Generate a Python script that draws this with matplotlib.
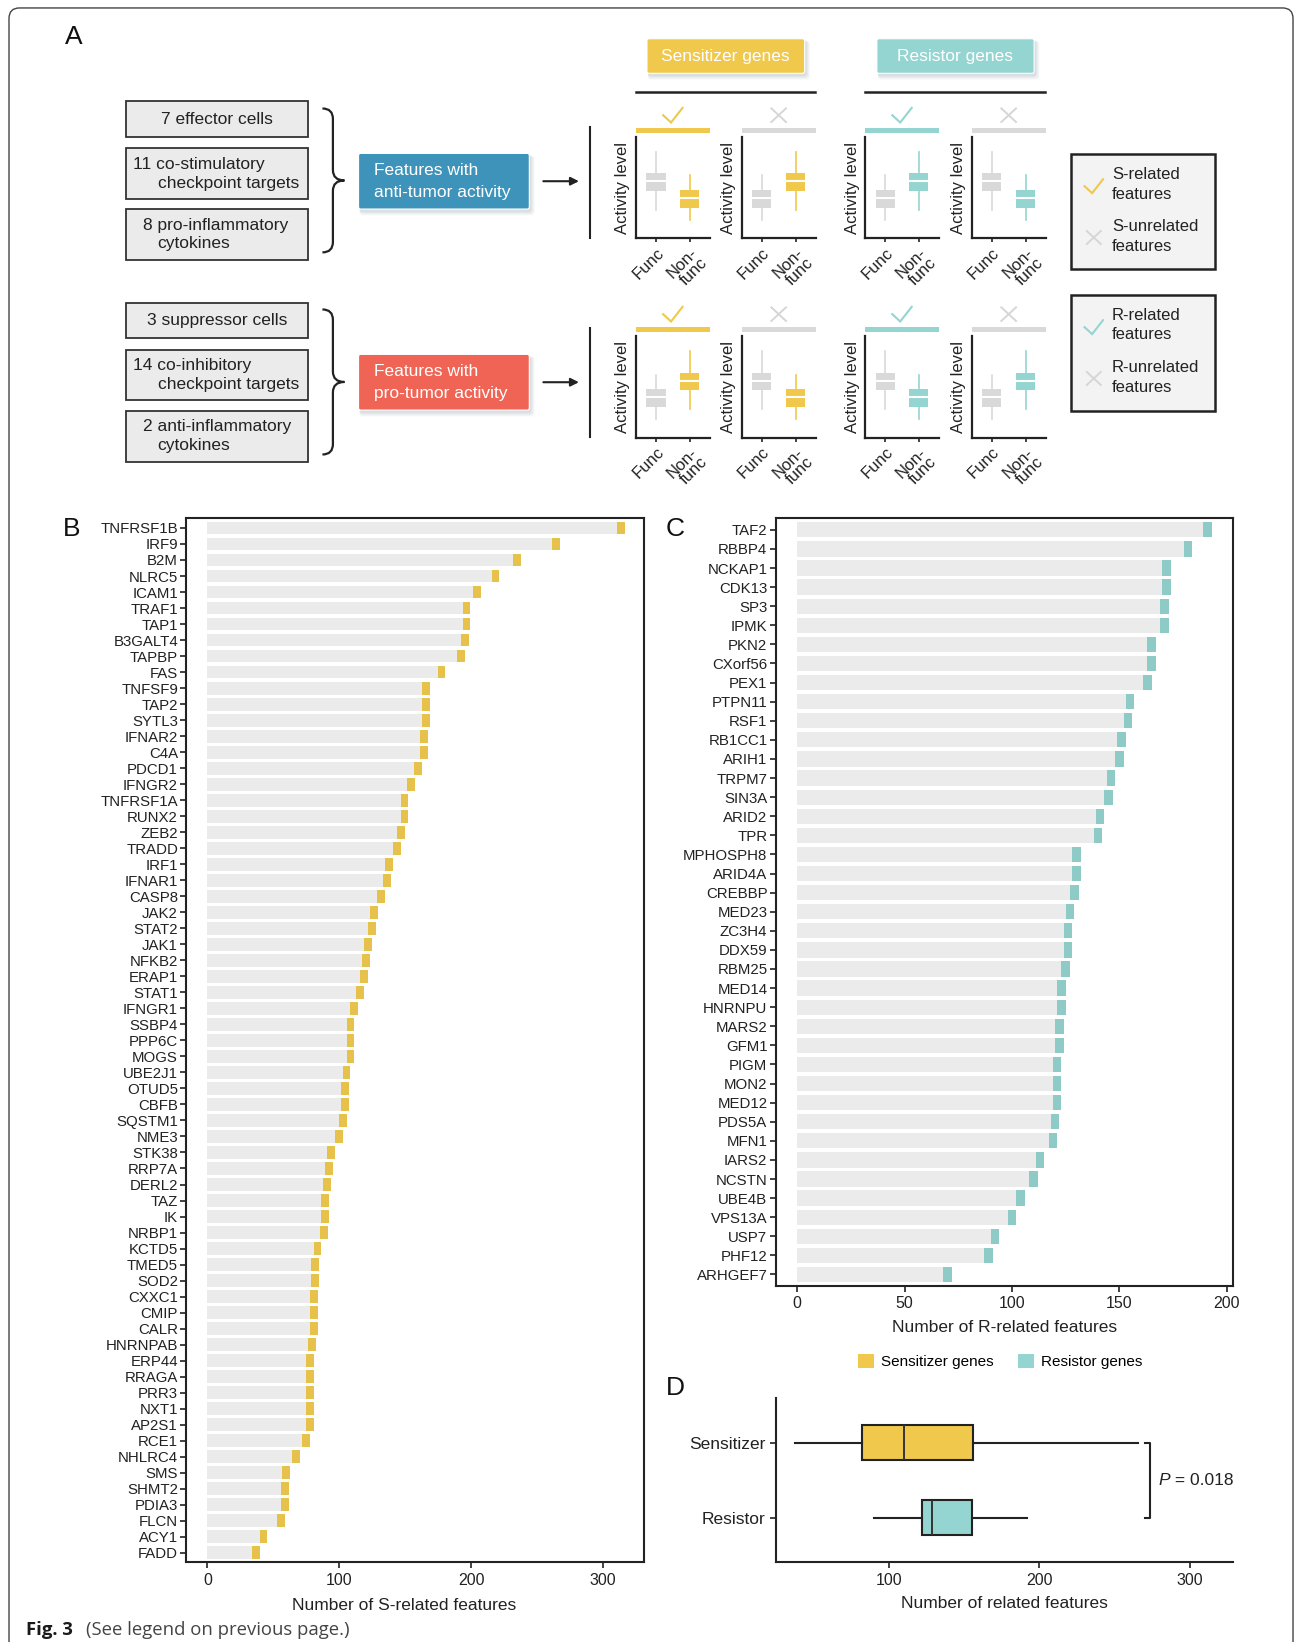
import numpy as np
import matplotlib
matplotlib.use('Agg')
import matplotlib.pyplot as plt
from matplotlib.patches import Rectangle, FancyBboxPatch, PathPatch, Patch
from matplotlib.path import Path

plt.rcParams['font.family'] = ['Liberation Sans', 'DejaVu Sans']

# ------------------------------------------------------------------ data
s_genes = ['TNFRSF1B', 'IRF9', 'B2M', 'NLRC5', 'ICAM1', 'TRAF1', 'TAP1', 'B3GALT4', 'TAPBP', 'FAS',
           'TNFSF9', 'TAP2', 'SYTL3', 'IFNAR2', 'C4A', 'PDCD1', 'IFNGR2', 'TNFRSF1A', 'RUNX2', 'ZEB2',
           'TRADD', 'IRF1', 'IFNAR1', 'CASP8', 'JAK2', 'STAT2', 'JAK1', 'NFKB2', 'ERAP1', 'STAT1',
           'IFNGR1', 'SSBP4', 'PPP6C', 'MOGS', 'UBE2J1', 'OTUD5', 'CBFB', 'SQSTM1', 'NME3', 'STK38',
           'RRP7A', 'DERL2', 'TAZ', 'IK', 'NRBP1', 'KCTD5', 'TMED5', 'SOD2', 'CXXC1', 'CMIP',
           'CALR', 'HNRNPAB', 'ERP44', 'RRAGA', 'PRR3', 'NXT1', 'AP2S1', 'RCE1', 'NHLRC4', 'SMS',
           'SHMT2', 'PDIA3', 'FLCN', 'ACY1', 'FADD']
s_counts = [315, 266, 236, 220, 206, 198, 198, 197, 194, 179,
            167, 167, 167, 166, 166, 161, 156, 151, 151, 148,
            145, 139, 138, 133, 128, 126, 123, 122, 120, 117,
            113, 110, 110, 110, 107, 106, 106, 104, 101, 95,
            94, 92, 91, 91, 90, 85, 83, 83, 82, 82,
            82, 81, 79, 79, 79, 79, 79, 76, 69, 61,
            60, 60, 57, 44, 38]

r_genes = ['TAF2', 'RBBP4', 'NCKAP1', 'CDK13', 'SP3', 'IPMK', 'PKN2', 'CXorf56', 'PEX1', 'PTPN11',
           'RSF1', 'RB1CC1', 'ARIH1', 'TRPM7', 'SIN3A', 'ARID2', 'TPR', 'MPHOSPH8', 'ARID4A', 'CREBBP',
           'MED23', 'ZC3H4', 'DDX59', 'RBM25', 'MED14', 'HNRNPU', 'MARS2', 'GFM1', 'PIGM', 'MON2',
           'MED12', 'PDS5A', 'MFN1', 'IARS2', 'NCSTN', 'UBE4B', 'VPS13A', 'USP7', 'PHF12', 'ARHGEF7']
r_counts = [192, 183, 173, 173, 172, 172, 166, 166, 164, 156,
            155, 152, 151, 147, 146, 142, 141, 131, 131, 130,
            128, 127, 127, 126, 124, 124, 123, 123, 122, 122,
            122, 121, 120, 114, 111, 105, 101, 93, 90, 71]

b_ticks = [0, 100, 200, 300]
c_ticks = [0, 50, 100, 150, 200]
d_ticks = [100, 200, 300]
group_labels = ['Sensitizer', 'Resistor']
legend_labels = ['Sensitizer genes', 'Resistor genes']
p_value = '0.018'

# panel A (schematic)
anti_items = [['7 effector cells'], ['11 co-stimulatory', 'checkpoint targets'], ['8 pro-inflammatory', 'cytokines']]
pro_items = [['3 suppressor cells'], ['14 co-inhibitory', 'checkpoint targets'], ['2 anti-inflammatory', 'cytokines']]
feature_titles = [['Features with', 'anti-tumor activity'], ['Features with', 'pro-tumor activity']]
gene_headers = ['Sensitizer genes', 'Resistor genes']
schem_high = [0.28, 0.47, 0.56, 0.64, 0.85]   # whislo, q1, med, q3, whishi
schem_low = [0.18, 0.30, 0.40, 0.475, 0.62]
schem_cats = ['Func', 'Non-\nfunc']
# per row, per column: (Func level, Non-func level)
schem_levels = [[('H', 'L'), ('L', 'H'), ('L', 'H'), ('H', 'L')],
                [('L', 'H'), ('H', 'L'), ('H', 'L'), ('L', 'H')]]
legend_s = [['S-related', 'features'], ['S-unrelated', 'features']]
legend_r = [['R-related', 'features'], ['R-unrelated', 'features']]

# ------------------------------------------------------------------ style
YEL = '#f0c84b'
TEAL = '#94d5d1'
TIPY = '#e6c14c'
TIPT = '#8ecbc6'
GRAYBAR = '#ebebeb'
LGRAY = '#d9d9d9'
DARK = '#222222'
BLUE = '#3d93b9'
RED = '#ef6454'

W, H = 1237.0, 1568.0
fig = plt.figure(figsize=(12.95, 16.42), dpi=100)
fig.patch.set_facecolor('white')


def rect(x0, y0, x1, y1):
    return [x0 / W, 1 - y1 / H, (x1 - x0) / W, (y1 - y0) / H]


ov = fig.add_axes([0, 0, 1, 1])
ov.set_xlim(0, W)
ov.set_ylim(H, 0)
ov.axis('off')

# outer border (open at the bottom)
ov.add_patch(FancyBboxPatch((8.6, 7.6), 1226.5, 1700, boxstyle='round,pad=0,rounding_size=10',
                            fc='none', ec='#444444', lw=1.0))

TXT = 12.5
# panel letters
for lab, (x, y) in zip('ABCD', [(70, 35), (68, 505), (645, 505), (645, 1325)]):
    ov.text(x, y, lab, fontsize=19, ha='center', va='center', color='#111111')


def shadow_box(x0, y0, x1, y1, color, ax):
    for i, a in enumerate([0.05, 0.05, 0.06, 0.07]):
        d = 4 - i
        ax.add_patch(FancyBboxPatch((x0 + 1, y0 + 2), (x1 - x0) + d, (y1 - y0) + d,
                                    boxstyle='round,pad=0,rounding_size=3', fc='#607080',
                                    ec='none', alpha=a))
    ax.add_patch(FancyBboxPatch((x0, y0), x1 - x0, y1 - y0, boxstyle='round,pad=0,rounding_size=2',
                                fc=color, ec='white', lw=0.8))


# left item boxes
box_rows = [[(96.8, 131), (141.7, 190), (200, 248)], [(289, 323), (334, 382), (392, 441)]]
for items, rows in zip([anti_items, pro_items], box_rows):
    for lines, (y0, y1) in zip(items, rows):
        ov.add_patch(Rectangle((120.8, y0), 173, y1 - y0, fc='#ebebeb', ec='#333333', lw=1.3))
        yc = (y0 + y1) / 2
        if len(lines) == 1:
            ov.text(207.3, yc, lines[0], fontsize=TXT, ha='center', va='center', color=DARK)
        else:
            x1st = 126.7 if lines[0][:2].isdigit() else 136.6
            ov.text(x1st, yc - 9, lines[0], fontsize=TXT, ha='left', va='center', color=DARK)
            ov.text(150.5, yc + 9, lines[1], fontsize=TXT, ha='left', va='center', color=DARK)


def brace(ax, xl, xm, xr, yt, yb, r=10):
    ym = (yt + yb) / 2
    verts = [(xl, yt), (xm, yt), (xm, yt + r), (xm, ym - r), (xm, ym), (xr, ym),
             (xm, ym), (xm, ym + r), (xm, yb - r), (xm, yb), (xl, yb)]
    codes = [Path.MOVETO, Path.CURVE3, Path.CURVE3, Path.LINETO, Path.CURVE3, Path.CURVE3,
             Path.CURVE3, Path.CURVE3, Path.LINETO, Path.CURVE3, Path.CURVE3]
    ax.add_patch(PathPatch(Path(verts, codes), fc='none', ec=DARK, lw=1.6))


brace(ov, 308, 318, 329, 103.6, 241)
brace(ov, 308, 318, 329, 295.5, 434)

# feature boxes
for (y0, y1), col, lines in zip([(146.5, 199.6), (338.4, 391.6)], [BLUE, RED], feature_titles):
    shadow_box(342.5, y0, 505.6, y1, col, ov)
    yc = (y0 + y1) / 2
    ov.text(357.5, yc - 10.5, lines[0], fontsize=TXT, color='white', ha='left', va='center')
    ov.text(357.5, yc + 10.5, lines[1], fontsize=TXT, color='white', ha='left', va='center')
    ov.annotate('', xy=(553, yc), xytext=(519, yc),
                arrowprops=dict(arrowstyle='-|>', color=DARK, lw=1.5, mutation_scale=12,
                                shrinkA=0, shrinkB=0))

ov.plot([564, 564], [121.3, 227], color=DARK, lw=1.5)
ov.plot([564, 564], [313, 417], color=DARK, lw=1.5)

# gene header boxes
for (x0, x1), col, lab in zip([(618, 768.6), (837.6, 987.8)], [YEL, TEAL], gene_headers):
    shadow_box(x0, 37, x1, 70, col, ov)
    ov.text((x0 + x1) / 2, 53.5, lab, fontsize=TXT, color='white', ha='center', va='center')
ov.plot([607.4, 778.7], [87.9, 87.9], color=DARK, lw=1.8)
ov.plot([826.6, 998], [87.9, 87.9], color=DARK, lw=1.8)


def check(ax, cx, cy, color, s=1.0):
    ax.plot([cx - 9.3 * s, cx - 1.7 * s, cx + 9.3 * s], [cy, cy + 7 * s, cy - 7 * s],
            color=color, lw=1.5, solid_joinstyle='miter')


def cross(ax, cx, cy, color, s=1.0):
    ax.plot([cx - 7 * s, cx + 7 * s], [cy - 6.5 * s, cy + 6.5 * s], color=color, lw=1.4)
    ax.plot([cx - 7 * s, cx + 7 * s], [cy + 6.5 * s, cy - 6.5 * s], color=color, lw=1.4)


cols_x = [(607.4, 678), (708.4, 779.2), (826.4, 896.8), (928, 999)]
col_bar = [YEL, LGRAY, TEAL, LGRAY]
col_box = [YEL, YEL, TEAL, TEAL]
col_mark = ['check', 'cross', 'check', 'cross']
row_y = [(130.5, 227.6, 110, 122), (321, 418, 300, 312.6)]
stats_map = {'H': schem_high, 'L': schem_low}

for r, (ya, yb, ymark, ybar) in enumerate(row_y):
    for c, (xa, xb) in enumerate(cols_x):
        ov.add_patch(Rectangle((xa, ybar), xb - xa, 4.7, fc=col_bar[c], ec='none'))
        cx = (xa + xb) / 2
        if col_mark[c] == 'check':
            check(ov, cx, ymark, col_bar[c])
        else:
            cross(ov, cx, ymark, '#d6d6d6')
        ax = fig.add_axes(rect(xa, ya, xb, yb))
        ax.set_facecolor('none')
        stats = []
        for lev, lab in zip(schem_levels[r][c], schem_cats):
            v = stats_map[lev]
            stats.append(dict(whislo=v[0], q1=v[1], med=v[2], q3=v[3], whishi=v[4], fliers=[], label=lab))
        bp = ax.bxp(stats, positions=[1, 2], widths=0.57, patch_artist=True, showcaps=False,
                    showfliers=False)
        colors = [LGRAY, col_box[c]]
        for i, b in enumerate(bp['boxes']):
            b.set_facecolor(colors[i])
            b.set_edgecolor('none')
        for i, w in enumerate(bp['whiskers']):
            w.set_color(colors[i // 2])
            w.set_linewidth(1.2)
        for m in bp['medians']:
            m.set_color('white')
            m.set_linewidth(1.5)
        ax.set_xlim(0.4, 2.6)
        ax.set_ylim(0, 1)
        ax.set_yticks([])
        ax.set_xticks([1, 2])
        ax.set_xticklabels(schem_cats, rotation=45, ha='right', va='top', rotation_mode='anchor',
                           fontsize=12, linespacing=0.9)
        ax.tick_params(axis='x', length=3, width=1.2, color=DARK, pad=2, labelcolor=DARK)
        for sp in ['top', 'right']:
            ax.spines[sp].set_visible(False)
        for sp in ['left', 'bottom']:
            ax.spines[sp].set_linewidth(1.6)
            ax.spines[sp].set_color(DARK)
        ax.set_ylabel('Activity level', fontsize=12, labelpad=4, color=DARK)

# legends of panel A
for (y0, y1), items, colr in zip([(146.8, 257.2), (281.4, 392.2)], [legend_s, legend_r], [YEL, TEAL]):
    ov.add_patch(Rectangle((1022.6, y0), 138, y1 - y0, fc='#f3f3f3', ec=DARK, lw=1.8))
    check(ov, 1044.8, y0 + 31, colr, s=0.95)
    cross(ov, 1044.8, y0 + 80, '#d6d6d6', s=0.95)
    ov.text(1062, y0 + 19.5, items[0][0], fontsize=12, ha='left', va='center', color=DARK)
    ov.text(1062, y0 + 38.5, items[0][1], fontsize=12, ha='left', va='center', color=DARK)
    ov.text(1062, y0 + 69.5, items[1][0], fontsize=12, ha='left', va='center', color=DARK)
    ov.text(1062, y0 + 88.5, items[1][1], fontsize=12, ha='left', va='center', color=DARK)


# ------------------------------------------------------------------ bar panels
def style_axes(ax, all_spines=True):
    for sp in ax.spines.values():
        sp.set_linewidth(1.5)
        sp.set_color(DARK)
    if not all_spines:
        ax.spines['top'].set_visible(False)
        ax.spines['right'].set_visible(False)
    ax.tick_params(length=4, width=1.2, color=DARK, labelcolor=DARK)


def bar_panel(ax, genes, counts, tipw, tipc, ticks, xlim, xlabel):
    y = np.arange(len(genes))
    counts = np.asarray(counts, dtype=float)
    ax.barh(y, counts, height=0.8, color=GRAYBAR, lw=0)
    ax.barh(y, tipw, left=counts - 0.75 * tipw, height=0.8, color=tipc, lw=0)
    ax.set_ylim(len(genes) - 0.4, -0.6)
    ax.set_xlim(*xlim)
    ax.set_yticks(y)
    ax.set_yticklabels(genes, fontsize=10.8)
    ax.set_xticks(ticks)
    ax.set_xticklabels([str(t) for t in ticks], fontsize=11.5)
    ax.tick_params(axis='y', pad=2)
    ax.set_xlabel(xlabel, fontsize=12.5, labelpad=6, color=DARK)
    style_axes(ax)


axB = fig.add_axes(rect(178, 495, 615, 1492))
bar_panel(axB, s_genes, s_counts, 6.0, TIPY, b_ticks, (-16, 331), 'Number of S-related features')
axB.xaxis.set_label_coords(0.477, -0.034)

axC = fig.add_axes(rect(741, 495, 1178, 1228))
bar_panel(axC, r_genes, r_counts, 4.0, TIPT, c_ticks, (-10, 203), 'Number of R-related features')

# legend between C and D
handles = [Patch(fc=YEL, ec='none'), Patch(fc=TEAL, ec='none')]
fig.legend(handles, legend_labels, loc='center', bbox_to_anchor=(955 / W, 1 - 1300 / H), ncol=2,
           frameon=False, fontsize=11, handlelength=1.1, handleheight=1.1, handletextpad=0.4,
           columnspacing=1.6)

# ------------------------------------------------------------------ panel D
axD = fig.add_axes(rect(741, 1335, 1178, 1492))
bp = axD.boxplot([s_counts, r_counts], positions=[2, 1], vert=False, widths=0.47, patch_artist=True,
                 showfliers=False, showcaps=False, whis=1.5)
for b, col in zip(bp['boxes'], [YEL, TEAL]):
    b.set_facecolor(col)
    b.set_edgecolor(DARK)
    b.set_linewidth(1.5)
for w in bp['whiskers']:
    w.set_color(DARK)
    w.set_linewidth(1.5)
for m in bp['medians']:
    m.set_color('#333333')
    m.set_linewidth(1.4)
axD.set_xlim(25, 329)
axD.set_ylim(0.4, 2.6)
axD.set_yticks([2, 1])
axD.set_yticklabels(group_labels, fontsize=12.5)
axD.set_xticks(d_ticks)
axD.set_xticklabels([str(t) for t in d_ticks], fontsize=11.5)
axD.set_xlabel('Number of related features', fontsize=12.5, labelpad=6, color=DARK)
style_axes(axD, all_spines=False)
axD.plot([270.5, 274, 274, 270.5], [2, 2, 1, 1], color=DARK, lw=1.5, clip_on=False)
tP = axD.text(279, 1.5, 'P', style='italic', fontsize=12.5, ha='left', va='center', color=DARK)
axD.annotate(' = ' + p_value, xy=(1, 0.5), xycoords=tP, fontsize=12.5, ha='left', va='center',
             color=DARK)

# caption
tf = ov.text(25, 1557, 'Fig. 3', fontsize=13.3, fontfamily='Open Sans', fontweight='bold', ha='left',
             va='center', color='#1a1a1a')
ov.annotate('(See legend on previous page.)', xy=(1, 0.5), xycoords=tf, xytext=(9, 0),
            textcoords='offset points', fontsize=13.3, fontfamily='Open Sans', ha='left', va='center',
            color='#444444')

fig.savefig('out.png', dpi=100, facecolor='white')
